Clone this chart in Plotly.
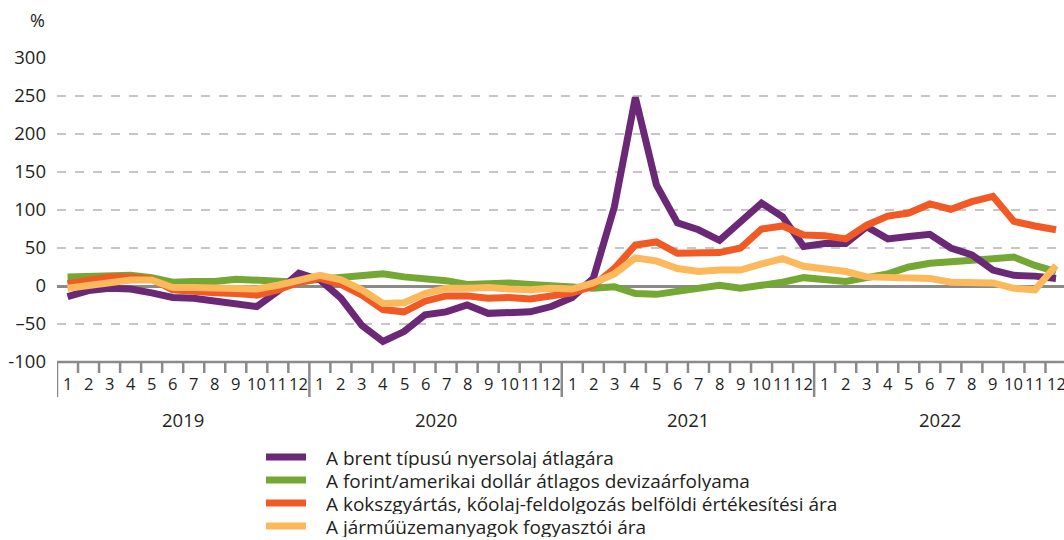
import plotly.graph_objects as go

months = [str(m) for m in range(1, 13)] * 4
years = ["2019", "2020", "2021", "2022"]

brent = [-14, -6, -3, -4, -9, -15, -16, -20, -22, -27, -7, 17,
         8, -16, -52, -73, -60, -38, -34, -25, -36, -34, -34, -27,
         -15, 10, 104, 248, 133, 83, 74, 60, 85, 109, 91, 52,
         56, 56, 78, 62, 65, 68, 50, 41, 21, 14, 13, 10]
forint_usd = [12, 12, 12, 14, 11, 5, 6, 6, 9, 7, 7, 5,
              9, 11, 13, 16, 12, 10, 7, 2, 3, 4, 2, 1,
              0, -3, -1, -10, -11, -7, -2, 1, -3, 0, 5, 11,
              8, 6, 11, 16, 25, 30, 32, 33, 36, 38, 27, 19]
koksz = [3, 8, 12, 12, 9, -5, -8, -9, -10, -12, -5, 5,
         10, 2, -12, -31, -34, -20, -13, -13, -16, -15, -17, -14,
         -9, 0, 23, 54, 58, 43, 43, 44, 50, 75, 79, 67,
         66, 62, 80, 92, 96, 108, 101, 111, 118, 85, 79, 74]
uzemanyag = [-3, 0, 5, 8, 8, -2, -2, -3, -4, -4, 1, 8,
             14, 8, -5, -23, -22, -10, -3, -3, -2, -4, -5, -3,
             -4, 4, 16, 37, 33, 23, 19, 21, 21, 29, 36, 26,
             23, 19, 12, 12, 10, 10, 5, 5, 4, -3, -5, 27]

names = ["A brent típusú nyersolaj átlagára",
         "A forint/amerikai dollár átlagos devizaárfolyama",
         "A kokszgyártás, kőolaj-feldolgozás belföldi értékesítési ára",
         "A járműüzemanyagok fogyasztói ára"]
colors = ["#6b2877", "#74a733", "#f15a24", "#fcb95b"]
series = [brent, forint_usd, koksz, uzemanyag]

ytick_vals = [-100, -50, 0, 50, 100, 150, 200, 250, 300]
ytick_text = ["-100", "–50", "0", "50", "100", "150", "200", "250", "300"]

FONT = "Open Sans"
TXT = "#231f20"
x = list(range(len(months)))

# plot area in page px: x 57..1064, y 58..362
PL, PR, PT, PB = 57, 1064, 58, 362
def px(xp):
    return (xp - PL) / (PR - PL)
def py(yp):
    return (PB - yp) / (PB - PT)

fig = go.Figure()
for i in [1, 0, 2, 3]:
    fig.add_trace(go.Scatter(
        x=x, y=series[i], mode="lines", name=names[i],
        line=dict(color=colors[i], width=7),
        hoverinfo="skip", showlegend=False))

shapes = []
for k in range(49):
    yr_div = (k % 12 == 0)
    shapes.append(dict(type="line", xref="x", yref="paper",
                       x0=k - 0.5, x1=k - 0.5, y0=0,
                       y1=py(397) if yr_div else py(373),
                       line=dict(color="#8a8a8a", width=2.5)))
shapes.append(dict(type="line", xref="x", yref="paper", x0=-0.5, x1=48,
                   y0=0, y1=0, line=dict(color="#8a8a8a", width=2.5)))

annotations = []
for i, m in enumerate(months):
    annotations.append(dict(x=i, y=py(383), xref="x", yref="paper",
                            text=m, showarrow=False, yanchor="middle",
                            font=dict(family=FONT, size=16.5, color=TXT)))
for j, yr in enumerate(years):
    annotations.append(dict(x=j * 12 + 5.5, y=py(419), xref="x", yref="paper",
                            text=yr, showarrow=False, yanchor="middle",
                            font=dict(family=FONT, size=18.5, color=TXT)))
annotations.append(dict(x=px(47), y=py(20), xref="paper", yref="paper", text="%",
                        showarrow=False, xanchor="right", yanchor="middle",
                        font=dict(family=FONT, size=18, color=TXT)))

# legend (drawn manually)
leg_y = [457, 480, 503, 526]
for i in range(4):
    shapes.append(dict(type="line", xref="paper", yref="paper",
                       x0=px(266), x1=px(306), y0=py(leg_y[i]), y1=py(leg_y[i]),
                       line=dict(color=colors[i], width=7)))
    annotations.append(dict(x=px(325), y=py(leg_y[i]), xref="paper", yref="paper",
                            text=names[i], showarrow=False, xanchor="left",
                            yanchor="middle", height=21, borderpad=0,
                            font=dict(family=FONT, size=19, color=TXT)))

fig.update_layout(
    width=1064, height=540,
    margin=dict(l=57, r=0, t=58, b=178),
    paper_bgcolor="white", plot_bgcolor="white",
    showlegend=False,
    xaxis=dict(range=[-0.5, 47.38], showgrid=False, zeroline=False,
               showticklabels=False, ticks="", showline=False, fixedrange=True),
    yaxis=dict(range=[-100, 300], tickvals=ytick_vals, ticktext=ytick_text,
               showgrid=True, gridcolor="#c6c6c6", griddash="dash", gridwidth=1.5,
               zeroline=True, zerolinecolor="#8a8a8a", zerolinewidth=2.5,
               ticks="", ticklabelstandoff=10, showline=False,
               tickfont=dict(family=FONT, size=18.5, color=TXT), fixedrange=True),
    shapes=shapes, annotations=annotations,
)

fig.write_html(
    "out.html",
    config={"displayModeBar": False},
    post_script="document.body.style.margin='0';document.body.style.overflow='hidden';",
)
